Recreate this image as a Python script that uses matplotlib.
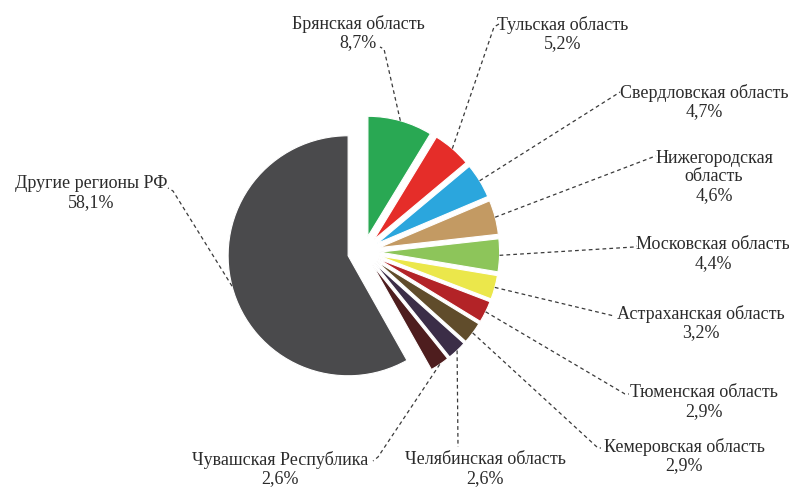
import math
import matplotlib
matplotlib.use("Agg")
import matplotlib.pyplot as plt

# Доли регионов, %
regions = ["Брянская область", "Тульская область", "Свердловская область",
           "Нижегородская\nобласть", "Московская область", "Астраханская область",
           "Тюменская область", "Кемеровская область", "Челябинская область",
           "Чувашская Республика", "Другие регионы РФ"]
shares = [8.7, 5.2, 4.7, 4.6, 4.4, 3.2, 2.9, 2.9, 2.6, 2.6, 58.1]
colors = ["#29a853", "#e52d29", "#2ba6dd", "#c39a63", "#8dc55a", "#ebe74b",
          "#b32327", "#604c2b", "#3b2d47", "#4e1d1e", "#4a4a4c"]

W, H = 789, 489

# Позиции подписей (центр текста) и изломы выносок, в пикселях экрана
label_xy = [(358, 33), (563, 34), (704, 102), (714, 177), (713, 254), (701, 323),
            (704, 402), (684, 456), (485, 469), (280, 469), (91, 193)]
elbow_xy = [(384, 50), (494, 28), (617, 95), (653, 158), (634, 248), (610, 316),
            (625, 395), (598, 449), (458, 448), (378, 458), (173, 192)]
text_end = [(380, 48), (499, 25), (620, 93), (656, 157), (637, 247), (614, 317),
            (629, 395), (601, 449), (458, 448), (373, 462), (168, 189)]


def sy(y):
    return H - y


plt.rcParams['font.family'] = ['Liberation Serif', 'DejaVu Serif']

fig = plt.figure(figsize=(W / 100, H / 100), dpi=100)
ax = fig.add_axes([0, 0, 1, 1])

wedges, _ = ax.pie(shares, colors=colors, startangle=90, counterclock=False,
                   radius=120, center=(363.6, sy(252.7)), explode=[16] * len(shares),
                   wedgeprops=dict(edgecolor="white", linewidth=0.8))

ax.set_xlim(0, W)
ax.set_ylim(0, H)
ax.set_aspect("equal")
ax.axis("off")

for w, name, val, lxy, exy, txy in zip(wedges, regions, shares, label_xy, elbow_xy, text_end):
    # точка выноски на внешней дуге сектора, посередине угла
    th = math.radians((w.theta1 + w.theta2) / 2)
    x0 = w.center[0] + w.r * math.cos(th)
    y0 = w.center[1] + w.r * math.sin(th)
    ax.plot([x0, exy[0], txy[0]], [y0, sy(exy[1]), sy(txy[1])],
            color="#3a3a3a", lw=0.9, ls=(0, (3, 2.5)))
    txt = name + "\n" + f"{val:.1f}%".replace(".", ",")
    ax.text(lxy[0], sy(lxy[1]), txt, ha="center", va="center",
            fontsize=13, color="#2b2b2b", linespacing=1.12)

fig.savefig("out.png", dpi=100)
